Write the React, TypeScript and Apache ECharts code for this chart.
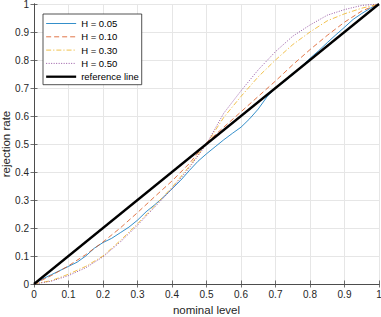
import React, { useEffect, useRef } from "react";
import * as echarts from "echarts";

const xs = [0, 0.05, 0.1, 0.15, 0.2, 0.25, 0.3, 0.35, 0.4, 0.45, 0.5, 0.55, 0.6, 0.65, 0.7, 0.75, 0.8, 0.85, 0.9, 0.95, 1];
const blueX = [0, 0.025, 0.05, 0.075, 0.1, 0.125, 0.15, 0.175, 0.2, 0.225, 0.25, 0.275, 0.3, 0.325, 0.35, 0.375, 0.4, 0.425, 0.45, 0.475, 0.5, 0.525, 0.55, 0.575, 0.6, 0.625, 0.65, 0.675, 0.7, 0.725, 0.75, 0.775, 0.8, 0.825, 0.85, 0.875, 0.9, 0.925, 0.95, 0.975, 1];
const h005 = [0, 0.018, 0.033, 0.048, 0.063, 0.078, 0.1, 0.128, 0.148, 0.163, 0.183, 0.203, 0.228, 0.258, 0.283, 0.31, 0.34, 0.37, 0.405, 0.438, 0.465, 0.49, 0.515, 0.538, 0.56, 0.59, 0.625, 0.668, 0.7, 0.722, 0.748, 0.777, 0.806, 0.833, 0.862, 0.89, 0.917, 0.945, 0.966, 0.985, 1];
const h010 = [0, 0.03, 0.065, 0.105, 0.15, 0.2, 0.255, 0.312, 0.368, 0.43, 0.505, 0.56, 0.615, 0.67, 0.725, 0.783, 0.837, 0.888, 0.935, 0.975, 1];
const h030 = [0, 0.012, 0.035, 0.063, 0.1, 0.155, 0.215, 0.28, 0.345, 0.42, 0.5, 0.595, 0.67, 0.74, 0.8, 0.855, 0.9, 0.94, 0.965, 0.985, 1];
const h050 = [0, 0.01, 0.03, 0.058, 0.097, 0.15, 0.21, 0.275, 0.34, 0.415, 0.5, 0.61, 0.69, 0.765, 0.83, 0.885, 0.925, 0.96, 0.98, 0.995, 1];
const refX = [0, 1];
const refY = [0, 1];

const seriesNames = ["H = 0.05", "H = 0.10", "H = 0.30", "H = 0.50", "reference line"];
const colors = ["#0072BD", "#D95319", "#EDB120", "#7E2F8E", "#000000"];
const widths = [0.8, 0.8, 0.8, 0.8, 2.3];
const dashes: any[] = ["solid", [5, 3], [5, 2, 1.2, 2], [1, 1.5], "solid"];

const zip = (a: number[], b: number[]) => a.map((v, i) => [v, b[i]]);

export default function App() {
  const ref = useRef<HTMLDivElement>(null);
  useEffect(() => {
    if (!ref.current) return;
    const chart = echarts.init(ref.current, undefined, { renderer: "svg" });
    const font = "'Liberation Sans', Arial, Helvetica, sans-serif";
    const axisCol = "#262626";
    const baseAxis = {
      type: "value" as const,
      min: 0,
      max: 1,
      interval: 0.1,
      axisLine: { show: true, lineStyle: { color: "#4d4d4d", width: 1 } },
      axisTick: { show: true, inside: true, length: 3.5, lineStyle: { color: "#4d4d4d", width: 0.8 } },
    };
    const seriesData = [zip(blueX, h005), zip(xs, h010), zip(xs, h030), zip(xs, h050), zip(refX, refY)];
    chart.setOption({
      animation: false,
      backgroundColor: "#fff",
      textStyle: { fontFamily: font },
      grid: { left: 34, right: 2, top: 4, bottom: 33, containLabel: false, outerBoundsMode: "none" },
      legend: {
        data: seriesNames.map((n, i) => ({
          name: n,
          lineStyle: { color: colors[i], width: widths[i], type: dashes[i] },
          itemStyle: { opacity: 0 },
        })),
        orient: "vertical",
        left: 43,
        top: 14,
        itemWidth: 30,
        itemHeight: 10,
        itemGap: 3.3,
        padding: [4.5, 3, 3, 2],
        borderColor: axisCol,
        borderWidth: 0.8,
        backgroundColor: "#fff",
        itemStyle: { opacity: 0 },
        textStyle: { fontSize: 9.5, color: "#000", fontFamily: font },
      },
      xAxis: [
        {
          ...baseAxis,
          position: "bottom",
          name: "nominal level",
          nameLocation: "middle",
          nameGap: 20,
          nameMoveOverlap: false,
          nameTextStyle: { fontSize: 11.5, color: axisCol, fontFamily: font },
          axisLabel: { fontSize: 10, color: axisCol, margin: 5, fontFamily: font },
          splitLine: { show: true, lineStyle: { color: "#e6e6e6", width: 1 } },
        },
        {
          ...baseAxis,
          position: "top",
          axisLabel: { show: false },
          splitLine: { show: false },
        },
      ],
      yAxis: [
        {
          ...baseAxis,
          position: "left",
          name: "rejection rate",
          nameLocation: "middle",
          nameGap: 22,
          nameMoveOverlap: false,
          nameTextStyle: { fontSize: 11.5, color: axisCol, fontFamily: font },
          axisLabel: { fontSize: 10, color: axisCol, margin: 5, fontFamily: font },
          splitLine: { show: true, lineStyle: { color: "#e6e6e6", width: 1 } },
        },
        {
          ...baseAxis,
          position: "right",
          axisLabel: { show: false },
          splitLine: { show: false },
        },
      ],
      series: seriesNames.map((n, i) => ({
        name: n,
        type: "line",
        data: seriesData[i],
        symbol: "none",
        lineStyle: { color: colors[i], width: widths[i], type: dashes[i] },
        itemStyle: { color: colors[i] },
      })),
    });
    return () => chart.dispose();
  }, []);
  return (
    <div
      ref={ref}
      style={{ position: "fixed", left: 0, top: 0, width: 381, height: 317, background: "#fff" }}
    />
  );
}
